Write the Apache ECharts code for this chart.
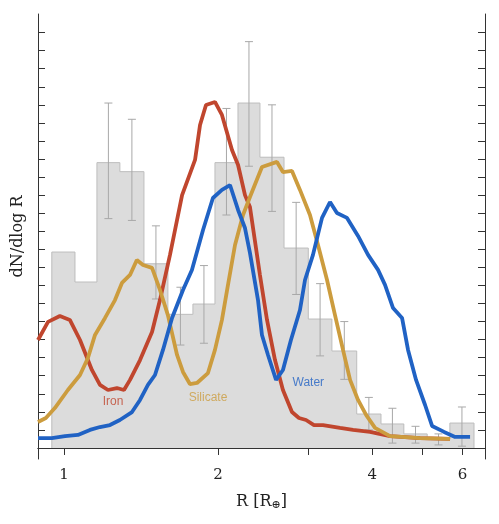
<!DOCTYPE html>
<html><head><meta charset="utf-8">
<script src="https://cdn.jsdelivr.net/npm/echarts@6/dist/echarts.min.js"></script>
<style>html,body{margin:0;padding:0;background:#fff}#c{width:499px;height:524px}</style>
</head><body><div id="c"></div>
<script>
const binEdges=[0.947,1.051,1.160,1.286,1.433,1.596,1.786,1.972,2.187,2.414,2.69,3.0,3.336,3.73,4.16,4.61,5.12,5.67,6.32];
const binHeights=[10.85,9.19,15.8,15.3,10.2,7.4,7.97,15.8,19.1,16.1,11.07,7.14,5.37,1.88,1.33,0.78,0.5,1.38];
const errLow=[null,null,12.7,12.6,8.25,5.7,5.8,12.9,15.6,13.1,8.5,5.1,3.8,1.0,0.27,0.27,0.17,0.1];
const errHigh=[null,null,19.1,18.2,12.3,8.9,10.1,18.8,22.5,19.0,13.6,9.1,7.0,2.8,2.2,1.2,0.78,2.27];
const iron=[[0.890,5.98],[0.931,6.98],[0.982,7.31],[1.027,7.09],[1.075,5.98],[1.134,4.32],[1.176,3.49],[1.219,3.21],[1.269,3.32],[1.310,3.21],[1.346,3.77],[1.408,4.87],[1.486,6.42],[1.540,8.19],[1.611,10.69],[1.701,14.0],[1.803,15.95],[1.844,17.88],[1.894,18.99],[1.972,19.16],[2.035,18.44],[2.129,16.5],[2.188,15.67],[2.257,14.0],[2.308,13.34],[2.414,9.58],[2.492,7.09],[2.583,4.87],[2.677,3.21],[2.788,1.99],[2.877,1.66],[2.970,1.55],[3.078,1.27],[3.205,1.27],[3.460,1.11],[3.669,1.0],[3.960,0.89],[4.333,0.66],[4.959,0.55],[5.675,0.5]];
const silicate=[[0.890,1.44],[0.922,1.66],[0.960,2.21],[1.018,3.21],[1.075,4.04],[1.114,4.98],[1.150,6.26],[1.203,7.2],[1.258,8.19],[1.298,9.14],[1.346,9.58],[1.388,10.41],[1.427,10.13],[1.486,9.97],[1.540,8.75],[1.596,7.36],[1.663,5.15],[1.708,4.21],[1.762,3.54],[1.819,3.6],[1.911,4.15],[1.972,5.43],[2.035,7.09],[2.091,9.03],[2.158,11.24],[2.237,12.9],[2.308,13.9],[2.436,15.56],[2.606,15.84],[2.677,15.28],[2.788,15.34],[2.890,14.29],[3.023,12.9],[3.134,11.24],[3.264,9.3],[3.383,7.36],[3.507,5.43],[3.620,3.77],[3.752,2.66],[3.890,1.83],[4.050,1.11],[4.333,0.66],[4.959,0.55],[5.675,0.5]];
const water=[[0.890,0.55],[0.947,0.55],[1.005,0.66],[1.065,0.72],[1.124,1.0],[1.176,1.16],[1.230,1.27],[1.286,1.55],[1.358,1.99],[1.408,2.66],[1.459,3.49],[1.506,4.04],[1.561,5.43],[1.626,7.2],[1.708,8.75],[1.778,9.86],[1.869,12.07],[1.954,13.84],[2.035,14.29],[2.110,14.56],[2.188,13.18],[2.257,12.18],[2.308,10.8],[2.393,8.19],[2.436,6.26],[2.503,5.15],[2.595,3.77],[2.677,4.32],[2.775,5.98],[2.890,7.64],[2.956,9.3],[3.064,10.69],[3.191,12.74],[3.308,13.62],[3.413,13.01],[3.571,12.74],[3.752,11.74],[3.925,10.69],[4.105,9.86],[4.236,9.03],[4.392,7.75],[4.573,7.2],[4.698,5.43],[4.870,3.77],[5.072,2.38],[5.234,1.22],[5.524,0.89],[5.804,0.61],[6.209,0.61]];
const labels=[{name:'Iron',pos:[1.247,2.55],color:'#c0462e'},{name:'Silicate',pos:[1.911,2.77],color:'#cc9c3e'},{name:'Water',pos:[3.0,3.6],color:'#2062c4'}];
const xTicks=[1,2,3,4,5,6];
const xLabels=[1,2,4,6];
const yTicks=[];for(let i=0;i<=23;i++)yTicks.push(i);

const histPts=[[binEdges[0],0]];
binHeights.forEach((h,i)=>{histPts.push([binEdges[i],h]);histPts.push([binEdges[i+1],h]);});
histPts.push([binEdges[binEdges.length-1],0]);
const errData=[];
binHeights.forEach((h,i)=>{if(errLow[i]!=null)errData.push([Math.sqrt(binEdges[i]*binEdges[i+1]),errLow[i],errHigh[i]]);});

const serif='DejaVu Serif';
const tickStyle={inside:true,length:7,lineStyle:{color:'#333',width:1}};
const ch=echarts.init(document.getElementById('c'));
ch.setOption({
animation:false,
grid:{left:38,right:14,top:14,bottom:65},
xAxis:[{type:'log',min:0.89,max:6.64,logBase:10,name:'R [R{s|⊕}]',nameLocation:'middle',nameGap:33,
 nameTextStyle:{fontFamily:serif,fontSize:16,color:'#222',rich:{s:{fontFamily:serif,fontSize:11,verticalAlign:'bottom',padding:[8,0,0,0]}}},
 axisLine:{lineStyle:{color:'#333'}},axisTick:Object.assign({customValues:xTicks},tickStyle),
 axisLabel:{customValues:xLabels,fontFamily:serif,fontSize:15,color:'#222',margin:9},splitLine:{show:false},minorTick:{show:false}},
 {type:'log',position:'top',min:0.89,max:6.64,logBase:10,axisLine:{lineStyle:{color:'#333'}},
 axisTick:Object.assign({customValues:xTicks},tickStyle),axisLabel:{show:false},splitLine:{show:false}}],
yAxis:[{type:'value',min:-0.61,max:24.03,name:'dN/dlog R',nameLocation:'middle',nameGap:12,
 nameTextStyle:{fontFamily:serif,fontSize:16,color:'#222'},axisLine:{show:true,lineStyle:{color:'#333'}},
 axisTick:Object.assign({customValues:yTicks},tickStyle),axisLabel:{show:false},splitLine:{show:false}},
 {type:'value',position:'right',min:-0.61,max:24.03,axisLine:{show:true,lineStyle:{color:'#333'}},
 axisTick:Object.assign({customValues:yTicks},tickStyle),axisLabel:{show:false},splitLine:{show:false}}],
series:[
{type:'line',data:histPts,symbol:'none',lineStyle:{color:'#bdbdbd',width:1},areaStyle:{color:'#dcdcdc',opacity:1},z:1},
{type:'custom',data:errData,z:2,renderItem:(p,api)=>{
 const x=api.value(0),lo=api.coord([x,api.value(1)]),hi=api.coord([x,api.value(2)]);
 const st={stroke:'#a8a8a8',lineWidth:1};
 return {type:'group',children:[
  {type:'line',shape:{x1:lo[0],y1:lo[1],x2:hi[0],y2:hi[1]},style:st},
  {type:'line',shape:{x1:lo[0]-4,y1:lo[1],x2:lo[0]+4,y2:lo[1]},style:st},
  {type:'line',shape:{x1:hi[0]-4,y1:hi[1],x2:hi[0]+4,y2:hi[1]},style:st}]};}},
{type:'line',data:iron,symbol:'none',lineStyle:{color:'#c0462e',width:3.8},z:3},
{type:'line',data:silicate,symbol:'none',lineStyle:{color:'#cc9c3e',width:3.8},z:3},
{type:'line',data:water,symbol:'none',lineStyle:{color:'#2062c4',width:3.8},z:4},
{type:'scatter',symbolSize:0,z:5,data:labels.map(l=>({value:l.pos,name:l.name,label:{show:true,formatter:l.name,color:l.color,fontFamily:'Liberation Sans',fontSize:12,position:'inside'}}))}
]});
</script></body></html>
